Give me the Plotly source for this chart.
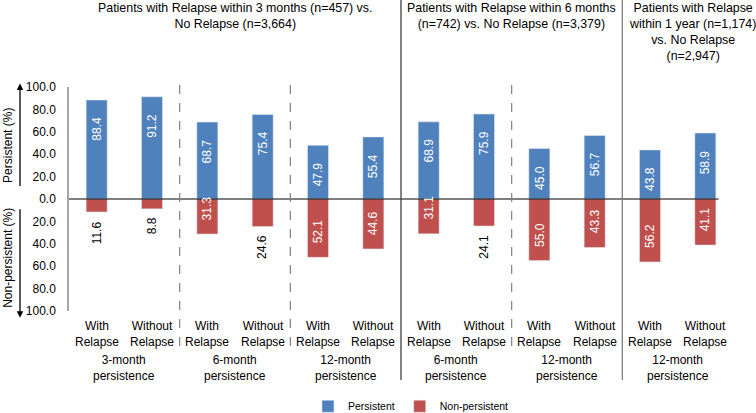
import plotly.graph_objects as go

# ---- data ----
categories = ["With<br>Relapse", "Without<br>Relapse"] * 6
group_labels = ["3-month<br>persistence", "6-month<br>persistence", "12-month<br>persistence",
                "6-month<br>persistence", "12-month<br>persistence", "12-month<br>persistence"]
headers = ["Patients with Relapse within 3 months (n=457) vs.<br>No Relapse (n=3,664)",
           "Patients with Relapse within 6 months<br>(n=742) vs. No Relapse (n=3,379)",
           "Patients with Relapse<br>within 1 year (n=1,174)<br>vs. No Relapse<br>(n=2,947)"]
persistent = [88.4, 91.2, 68.7, 75.4, 47.9, 55.4, 68.9, 75.9, 45.0, 56.7, 43.8, 58.9]
non_persistent = [11.6, 8.8, 31.3, 24.6, 52.1, 44.6, 31.1, 24.1, 55.0, 43.3, 56.2, 41.1]
tick_vals = [-100, -80, -60, -40, -20, 0, 20, 40, 60, 80, 100]
tick_text = ["%.1f" % abs(v) for v in tick_vals]

FONT = "Liberation Sans, Arial, sans-serif"
BLUE = "#4F81BD"
RED = "#C0504D"
x = list(range(len(categories)))

H, TOP, BOT = 413, 87, 102
Y_RANGE = [-100, 100]
PX_PER_UNIT = (H - TOP - BOT) / (Y_RANGE[1] - Y_RANGE[0])


def text_len(s, size=12):
    # approximate rendered length of a numeric label (Arial metrics)
    return sum(0.278 if ch == "." else 0.556 for ch in s) * size


fig = go.Figure()
fig.add_trace(go.Bar(x=x, y=persistent, name="Persistent", marker_color=BLUE,
                     width=0.38, hoverinfo="y"))
fig.add_trace(go.Bar(x=x, y=[-v for v in non_persistent], name="Non-persistent",
                     marker_color=RED, width=0.38, hoverinfo="y"))

ann = []
# data labels (placed at the bar ends, offset inward/outward)
for i, v in enumerate(persistent):
    ann.append(dict(x=i, y=v - 29 / PX_PER_UNIT, xref="x", yref="y", text="%.1f" % v,
                    textangle=-90, showarrow=False, xanchor="center", yanchor="middle",
                    font=dict(color="white", size=12, family=FONT)))
for i, v in enumerate(non_persistent):
    t = "%.1f" % v
    if v < 30:
        yy = -v - (9 + text_len(t) / 2) / PX_PER_UNIT
        col = "black"
    else:
        yy = -v + 26 / PX_PER_UNIT
        col = "white"
    ann.append(dict(x=i, y=yy, xref="x", yref="y", text=t, textangle=-90,
                    showarrow=False, xanchor="center", yanchor="middle",
                    font=dict(color=col, size=12, family=FONT)))
# category labels
for i, c in enumerate(categories):
    ann.append(dict(x=i, y=-0.028, xref="x", yref="paper", text=c, showarrow=False,
                    xanchor="center", yanchor="top",
                    font=dict(size=12, color="black", family=FONT)))
# group labels
for g, lab in enumerate(group_labels):
    ann.append(dict(x=2 * g + 0.5, y=-0.18, xref="x", yref="paper", text=lab,
                    showarrow=False, xanchor="center", yanchor="top",
                    font=dict(size=12, color="black", family=FONT)))
# headers
header_x = [2.5, 7.5, 10.77]
for hx, h in zip(header_x, headers):
    ann.append(dict(x=hx, y=1.392, xref="x", yref="paper", text=h, showarrow=False,
                    xanchor="center", yanchor="top",
                    font=dict(size=12.4, color="black", family=FONT)))
# axis titles with arrows
ann.append(dict(x=-0.092, y=0.741, xref="paper", yref="paper", text="Persistent (%)",
                textangle=-90, showarrow=False, xanchor="center", yanchor="middle",
                font=dict(size=12, color="black", family=FONT)))
ann.append(dict(x=-0.092, y=0.237, xref="paper", yref="paper", text="Non-persistent (%)",
                textangle=-90, showarrow=False, xanchor="center", yanchor="middle",
                font=dict(size=12, color="black", family=FONT)))
ann.append(dict(x=-0.0738, y=1.016, xref="paper", yref="paper", text="", showarrow=True,
                ax=0, ay=104, arrowhead=2, arrowsize=1, arrowwidth=1.3, arrowcolor="black"))
ann.append(dict(x=-0.0738, y=-0.03, xref="paper", yref="paper", text="", showarrow=True,
                ax=0, ay=-110, arrowhead=2, arrowsize=1, arrowwidth=1.3, arrowcolor="black"))

shapes = []
# zero line
shapes.append(dict(type="line", xref="x", yref="y", x0=-0.572, x1=11.24, y0=0, y1=0,
                   line=dict(color="black", width=1.2)))
# dashed dividers
for dx in [1.5, 3.5, 7.5]:
    shapes.append(dict(type="line", xref="x", yref="paper", x0=dx, x1=dx, y0=-0.156, y1=1.01,
                       line=dict(color="#808080", width=1.2, dash="dash")))
# solid dividers
for dx, col in [(5.5, "#404040"), (9.5, "#808080")]:
    shapes.append(dict(type="line", xref="x", yref="paper", x0=dx, x1=dx, y0=-0.308, y1=1.39,
                       line=dict(color=col, width=1.3)))

fig.update_layout(
    width=756, height=H,
    margin=dict(l=69, r=23, t=TOP, b=BOT, autoexpand=False),
    paper_bgcolor="white", plot_bgcolor="white",
    barmode="relative",
    font=dict(family=FONT, size=12, color="black"),
    xaxis=dict(range=[-0.5, 11.5], showticklabels=False, showgrid=False, zeroline=False,
               showline=False, ticks=""),
    yaxis=dict(range=Y_RANGE, tickvals=tick_vals, ticktext=tick_text, showgrid=False,
               zeroline=False, showline=True, linecolor="#A6A6A6", linewidth=1.5,
               ticks="outside", ticklen=9, tickcolor="rgba(0,0,0,0)",
               tickfont=dict(size=12, family=FONT, color="black")),
    legend=dict(orientation="h", x=0.515, xanchor="center", y=-0.49, yanchor="bottom",
                font=dict(size=10.5, family=FONT), itemwidth=30, bgcolor="rgba(0,0,0,0)"),
    annotations=ann, shapes=shapes,
)

fig.write_html("out.html", config={"displayModeBar": False},
               post_script="document.body.style.margin='0px';")
